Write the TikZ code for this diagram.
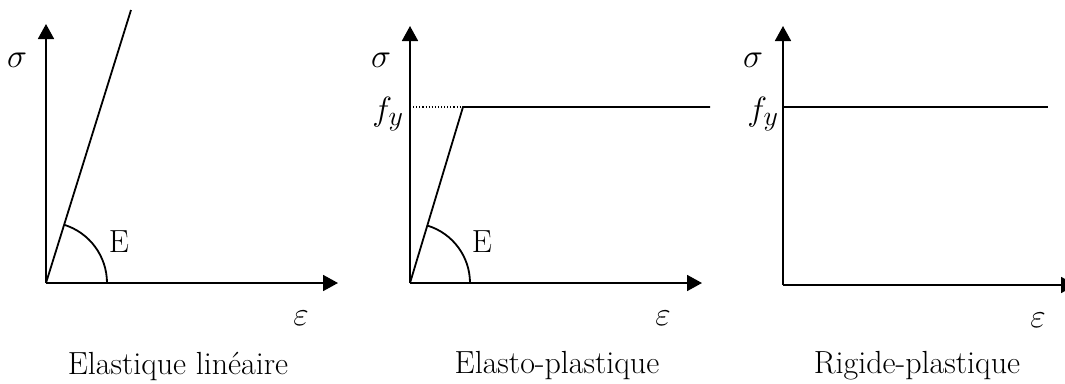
\documentclass[tikz,border=0pt]{standalone}
\usepackage{graphicx}
\usetikzlibrary{arrows.meta}
\newcommand\mysym[1]{\scalebox{1.35}{\Huge$#1$}}
\begin{document}
\begin{tikzpicture}[x=1pt,y=-1pt,
  ax/.style={line width=1.8pt,-{Triangle[length=15pt,width=16pt]}},
  crv/.style={line width=1.8pt},
  dots/.style={line width=1.1pt,dotted},
  lbl/.style={inner sep=0pt},
  captxt/.style={inner sep=0pt,font=\fontsize{32}{38}\selectfont}]
\useasboundingbox (0,0) rectangle (1065,383);
\clip (0,0) rectangle (1065,383);
% panel 1
\coordinate (o1) at (46,283);
\coordinate (y1) at (46,24);
\coordinate (x1) at (338,283);
\coordinate (t1) at (131,10);
\draw[ax] (o1) -- (y1);
\draw[ax] (o1) -- (x1);
\draw[crv] (o1) -- (t1);
\draw[crv] ([xshift=61pt]o1) arc[start angle=0,end angle=-72.7,radius=61];
\node[lbl] (s1) at (17,60) {\mysym{\sigma}};
\node[lbl] (e1) at (301,318) {\mysym{\varepsilon}};
\node[captxt] (E1) at (119,242) {E};
\node[captxt] (c1) at (178,366) {Elastique linéaire};
% panel 2
\coordinate (o2) at (410,283);
\coordinate (y2) at (410,26);
\coordinate (x2) at (702,283);
\coordinate (k2) at (463,107);
\coordinate (f2) at (410,107);
\coordinate (r2) at (710,107);
\draw[ax] (o2) -- (y2);
\draw[ax] (o2) -- (x2);
\draw[crv] (o2) -- (k2) -- (r2);
\draw[dots] (f2) -- (k2);
\draw[crv] ([xshift=60pt]o2) arc[start angle=0,end angle=-73.2,radius=60];
\node[lbl] (s2) at (381,60) {\mysym{\sigma}};
\node[lbl] (fy2) at (388,114) {\mysym{f_y}};
\node[lbl] (e2) at (663,318) {\mysym{\varepsilon}};
\node[captxt] (E2) at (482,242) {E};
\node[captxt] (c2) at (557,366) {Elasto-plastique};
% panel 3
\coordinate (o3) at (783,285);
\coordinate (y3) at (783,26);
\coordinate (x3) at (1076,285);
\coordinate (f3) at (783,107);
\coordinate (r3) at (1048,107);
\draw[ax] (o3) -- (y3);
\draw[ax] (o3) -- (x3);
\draw[crv] (f3) -- (r3);
\node[lbl] (s3) at (753,60) {\mysym{\sigma}};
\node[lbl] (fy3) at (763,114) {\mysym{f_y}};
\node[lbl] (e3) at (1038,320) {\mysym{\varepsilon}};
\node[captxt] (c3) at (917,366) {Rigide-plastique};
\end{tikzpicture}
\end{document}
